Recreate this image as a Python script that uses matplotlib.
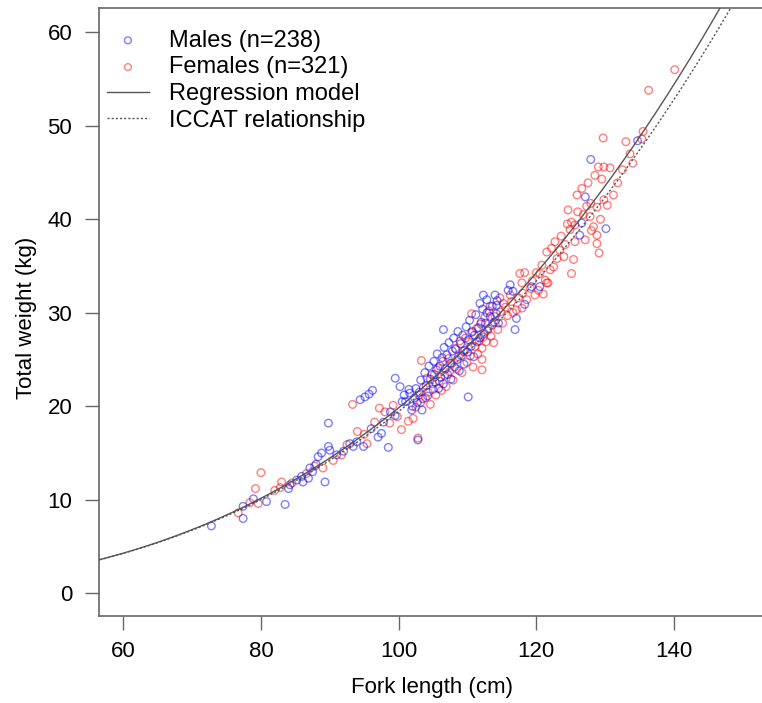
import numpy as np
import matplotlib.pyplot as plt

plt.rcParams['font.family'] = ['Liberation Sans', 'DejaVu Sans']

# males (fork length cm, total weight kg)
male_fl = [72.8, 77.4, 77.4, 78.9, 80.8, 83.5, 84.0, 84.2, 85.2, 85.9, 86.1, 86.9, 87.1, 87.5, 88.0,
           88.3, 88.8, 89.3, 89.8, 89.8, 90.0, 91.0, 92.0, 92.9, 93.4, 93.9, 94.9, 94.4, 95.1, 95.7,
           96.2, 96.0, 97.0, 97.5, 97.8, 98.5, 98.8, 99.5, 99.5, 100.2, 100.5, 100.8, 101.0, 101.5,
           101.6, 101.9, 102.0, 102.3, 102.5, 102.7, 102.8, 103.4,
           103.0, 103.2, 103.5, 103.8, 104.0, 104.2, 104.4, 104.6, 104.8, 105.0, 105.1, 105.3, 105.5,
           105.6, 105.8, 106.0, 106.1, 106.3, 106.5, 106.5, 106.6, 106.8, 107.0, 107.1, 107.3, 107.5,
           107.6, 107.8, 108.0, 108.1, 108.3, 108.5, 108.6, 108.8, 109.0, 109.1, 109.3, 109.5, 109.6,
           109.8, 110.0, 110.1, 110.2, 110.3, 110.5, 110.7, 110.9, 111.0, 111.2, 111.4, 111.6, 111.8,
           111.8, 112.0, 112.2, 112.3, 112.4, 112.6, 112.8, 112.8, 113.0, 113.3, 113.6, 113.9, 114.0,
           114.2, 114.2, 114.3, 114.5, 115.9, 116.2, 116.6, 116.9, 117.1, 118.3, 119.3, 120.5, 126.3,
           126.6, 127.1, 127.9, 130.1, 134.7]
male_tw = [7.2, 8.0, 9.3, 10.1, 9.8, 9.5, 11.2, 11.6, 12.1, 12.5, 11.9, 12.3, 13.4, 13.0, 13.8,
           14.6, 15.0, 11.9, 18.2, 15.7, 15.3, 14.8, 15.2, 16.0, 15.7, 16.2, 15.7, 20.7, 21.0, 21.3,
           21.7, 17.6, 16.7, 17.1, 18.3, 15.6, 19.4, 23.0, 19.0, 22.1, 20.5, 21.2, 20.5, 21.8,
           21.4, 19.6, 20.0, 20.9, 21.9, 20.4, 16.4, 19.6,
           21.5, 22.8, 20.8, 23.6, 22.2, 21.1, 24.3, 22.9, 23.4, 21.8, 24.8, 22.6, 23.9,
           25.6, 21.9, 24.3, 23.1, 25.2, 22.4, 28.2, 26.3, 24.0, 25.5, 23.4, 26.8, 24.6,
           22.9, 25.9, 27.3, 24.2, 26.1, 25.0, 28.0, 23.8, 26.7, 25.4, 27.6, 24.5, 26.0,
           28.5, 25.8, 21.0, 27.1, 29.2, 26.4, 28.0, 25.3, 27.6, 29.8, 26.9, 28.4, 27.3,
           31.0, 29.0, 30.4, 31.9, 27.8, 28.9, 30.0, 31.4, 28.3, 29.6, 30.7, 29.0, 31.9,
           30.8, 29.9, 31.3, 28.9, 32.4, 33.0, 32.3, 28.2, 29.4, 30.9, 32.8, 32.8, 38.3,
           39.6, 42.4, 46.4, 39.0, 48.4]

# females
female_fl = [76.7, 78.4, 79.2, 79.6, 80.0, 82.0, 82.8, 83.0, 84.5, 86.6, 87.8, 89.0, 90.5, 91.7,
             92.5, 93.3, 94.0, 95.0, 95.4, 96.5, 97.2, 98.0, 98.7, 99.2, 99.8, 100.4, 101.4, 102.1,
             102.8, 103.3,
             102.5, 102.9, 103.2, 103.6, 103.9, 104.1, 104.3, 104.6, 104.9, 105.2, 105.4, 105.7,
             105.9, 106.2, 106.4, 106.7, 106.9, 107.2, 107.4, 107.7, 107.9, 108.2, 108.4, 108.7,
             108.9, 109.2, 109.4, 109.7, 109.9, 110.1, 110.4, 110.6, 110.6, 110.8, 111.1, 111.3,
             111.5, 111.7, 111.9, 112.1, 112.1, 112.1, 112.3, 112.5, 112.7, 112.9, 113.1, 113.3,
             113.4, 113.6, 113.8, 114.0, 114.4, 114.7, 114.8, 115.1, 115.2, 115.5, 115.8, 116.2,
             116.4, 116.6, 117.1, 117.4, 117.6, 117.9, 117.9, 118.0, 118.3, 118.6, 119.1, 119.4,
             119.8, 120.0, 120.3, 120.5, 120.8, 121.0, 121.3, 121.5, 121.5, 121.7, 122.0, 122.2,
             122.5, 122.7, 123.0, 123.4, 123.6, 124.0, 124.2, 124.5, 124.6, 124.9, 125.1, 125.1,
             125.4, 125.6, 125.6, 125.9, 126.0, 126.6, 126.8, 127.1, 127.3, 127.5, 127.8, 127.9,
             128.0, 128.3, 128.5, 128.8, 128.8, 128.8, 129.0, 129.1, 129.3, 129.5, 129.7, 129.8,
             129.8, 130.3, 130.7, 131.2, 131.8, 132.5, 133.0, 133.6, 134.0, 135.3, 135.5, 136.3,
             140.1]
female_tw = [8.6, 9.7, 11.2, 9.6, 12.9, 11.0, 11.3, 11.9, 11.8, 12.8, 13.6, 13.4, 14.2, 14.8,
             15.9, 20.2, 17.3, 17.0, 16.0, 18.3, 19.8, 19.4, 18.2, 20.1, 18.9, 17.5, 18.4, 18.7,
             16.6, 24.9,
             19.9, 21.2, 20.4, 22.0, 20.9, 23.0, 21.5, 20.2, 22.4, 23.4, 21.2, 24.1,
             22.7, 21.7, 24.8, 23.3, 22.1, 25.1, 23.7, 24.6, 22.8, 26.2, 24.0, 25.3,
             27.0, 23.6, 25.9, 27.3, 24.7, 26.9, 25.4, 27.9, 29.9, 24.2, 26.4, 28.3,
             25.6, 27.0, 28.8, 26.2, 23.9, 25.0, 27.4, 29.5, 26.9, 28.1, 30.2, 30.7,
             27.5, 28.7, 26.8, 29.6, 28.2, 31.6, 30.1, 28.9, 31.0, 30.6, 29.7, 31.9,
             31.2, 30.0, 30.3, 31.6, 34.2, 33.2, 30.5, 32.1, 34.3, 31.4, 32.6, 33.4,
             31.9, 34.3, 32.4, 34.2, 35.1, 32.0, 33.5, 36.5, 33.2, 33.2, 34.6, 36.9,
             34.9, 37.6, 35.8, 36.7, 38.2, 36.0, 37.3, 39.5, 41.0, 38.9, 39.7, 34.2,
             35.7, 39.4, 37.6, 42.6, 40.8, 43.3, 40.5, 37.8, 41.4, 43.9, 40.3, 41.7,
             38.8, 39.2, 44.7, 41.3, 38.3, 37.4, 45.6, 36.4, 40.0, 44.3, 48.7, 45.6,
             42.1, 41.5, 45.5, 42.6, 43.9, 45.3, 48.3, 47.0, 46.0, 48.6, 49.4, 53.8,
             56.0]

# W = a * FL^b
reg_a, reg_b = 1.984e-5, 3.0
iccat_a, iccat_b = 2.233e-5, 2.970

fig = plt.figure(figsize=(7.62, 7.03), dpi=100)
ax = fig.add_axes([0.1295, 0.1238, 0.8705, 0.8644])

ax.scatter(female_fl, female_tw, s=30, facecolors='none', edgecolors=(1, 0, 0, 0.5),
           linewidths=1.0, label='Females (n=321)', zorder=2)
ax.scatter(male_fl, male_tw, s=30, facecolors='none', edgecolors=(0, 0, 1, 0.5),
           linewidths=1.0, label='Males (n=238)', zorder=3)

fl = np.linspace(56, 153, 300)
ax.plot(fl, reg_a * fl ** reg_b, color='#555555', lw=1.0, label='Regression model', zorder=4)
ax.plot(fl, iccat_a * fl ** iccat_b, color='#555555', lw=1.0, ls=(0, (1.5, 1.5)),
        label='ICCAT relationship', zorder=4)

ax.set_xlim(56.43, 152.77)
ax.set_ylim(-2.43, 62.57)
ax.set_xticks([60, 80, 100, 120, 140])
ax.set_yticks([0, 10, 20, 30, 40, 50, 60])
ax.spines['right'].set_visible(False)
for s in ['left', 'bottom', 'top']:
    ax.spines[s].set_color('#666666')
    ax.spines[s].set_linewidth(1.2)
ax.tick_params(direction='out', length=10, width=1.0, color='#666666', labelsize=16)
ax.tick_params(axis='x', pad=8)
ax.tick_params(axis='y', pad=9)

ax.set_xlabel('Fork length (cm)', fontsize=16)
ax.xaxis.set_label_coords(0.502, -0.1)
ax.set_ylabel('Total weight (kg)', fontsize=16)
ax.yaxis.set_label_coords(-0.093, 0.49)

h, l = ax.get_legend_handles_labels()
order = [1, 0, 2, 3]
ax.legend([h[i] for i in order], [l[i] for i in order], loc='upper left',
          bbox_to_anchor=(-0.02, 1.0), frameon=False, fontsize=17,
          handlelength=1.8, handletextpad=0.85, labelspacing=0.2, markerscale=0.9)

fig.savefig('out.png', dpi=100)
